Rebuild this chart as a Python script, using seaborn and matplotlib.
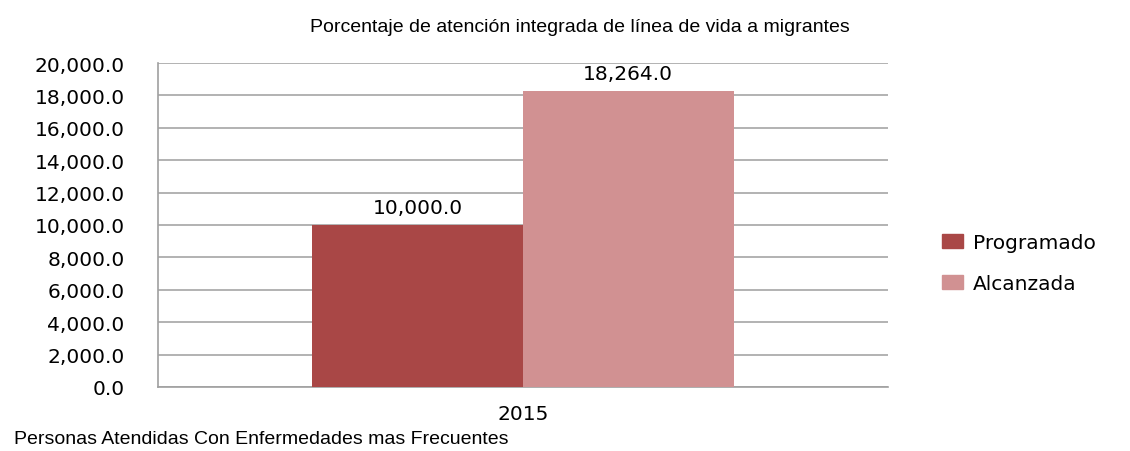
import matplotlib
matplotlib.use('Agg')
import matplotlib.pyplot as plt
import seaborn as sns
import pandas as pd
from matplotlib.ticker import FuncFormatter, MultipleLocator

# --- données ---
anios = ['2015']
series = ['Programado', 'Alcanzada']
valores = [10000.0, 18264.0]
colores = ['#A94746', '#D19192']

df = pd.DataFrame({'Año': anios * len(series), 'Serie': series, 'Valor': valores})

sns.set_style('white')
plt.rcParams['font.family'] = ['DejaVu Sans']
plt.rcParams['text.color'] = 'black'
plt.rcParams['xtick.color'] = 'black'
plt.rcParams['ytick.color'] = 'black'

fig = plt.figure(figsize=(11.3, 4.52), dpi=100)
ax = fig.add_axes([0.1398, 0.1416, 0.646, 0.7168])

sns.barplot(data=df, x='Año', y='Valor', hue='Serie', palette=colores,
            width=0.577, saturation=1, ax=ax, legend=False, zorder=3,
            linewidth=0)

ax.set_ylim(0, 20000)
ax.set_xlim(-0.5, 0.5)
ax.yaxis.set_major_locator(MultipleLocator(2000))
ax.yaxis.set_major_formatter(FuncFormatter(lambda v, p: f'{v:,.1f}'))
ax.grid(axis='y', color='#A6A6A6', linewidth=1.2, zorder=0)
for s in ['top', 'right']:
    ax.spines[s].set_visible(False)
for s in ['left', 'bottom']:
    ax.spines[s].set_color('#A0A0A0')
    ax.spines[s].set_linewidth(1.2)
ax.tick_params(axis='y', labelsize=14.5, length=0, pad=24, labelcolor='black')
ax.tick_params(axis='x', labelsize=14.5, length=0, pad=12, labelcolor='black')
ax.set_xlabel('')
ax.set_ylabel('')

for cont in ax.containers:
    ax.bar_label(cont, labels=[f'{v:,.1f}' for v in cont.datavalues],
                 fontsize=14.5, padding=6, color='black')

fig.text(0.513, 0.94, 'Porcentaje de atención integrada de línea de vida a migrantes',
         ha='center', va='center', fontsize=14, family='Liberation Sans', color='black')
fig.text(0.012, 0.027, 'Personas Atendidas Con Enfermedades mas Frecuentes',
         ha='left', va='center', fontsize=14, family='Liberation Sans', color='black')

handles = [plt.Rectangle((0, 0), 1, 1, color=c) for c in colores]
fig.legend(handles, series, loc='center left', bbox_to_anchor=(0.818, 0.415),
           frameon=False, fontsize=14.5, handlelength=1.0, handleheight=0.7,
           labelspacing=1.1, handletextpad=0.5, labelcolor='black')

fig.savefig('out.png', dpi=100)
